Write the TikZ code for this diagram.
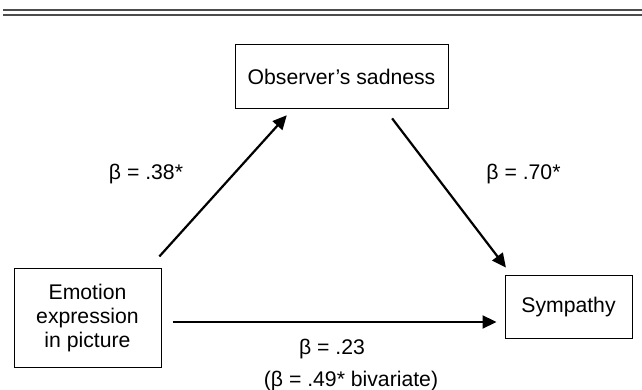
\documentclass[tikz,border=0pt]{standalone}
\usepackage{fontspec}
\setmainfont{Liberation Sans}
\usepackage{tikz}
\usetikzlibrary{arrows.meta}

\begin{document}
\begin{tikzpicture}[x=0.5pt, y=0.5pt, >={Triangle[length=7pt,width=6.5pt]},
  box/.style={draw, line width=0.5pt, align=center, inner sep=0pt},
  path/.style={->, line width=1.1pt},
  font=\fontsize{10.6}{12}\selectfont]
\useasboundingbox (0,0) rectangle (642,390);
\draw [black!70, line width=1pt] (3,379.5)--(642,379.5);
\draw [black!70, line width=1pt] (3,374.5)--(642,374.5);
\node[box, minimum width=106.5pt, minimum height=32pt] (obs) at (341.5, 313)  {Observer's sadness} ;
\node[box, minimum width=73.5pt, minimum height=49.5pt] (emo) at (87.5, 71.5)  {Emotion\\expression\\in picture} ;
\node[box, minimum width=63.5pt, minimum height=31.5pt] (sym) at (568.5, 82.5)  {Sympathy} ;
\node (b1) at (146, 216)  {β = .38*} ;
\node (b2) at (523.5, 216)  {β = .70*} ;
\node (b3) at (332, 41)  {β = .23} ;
\node (b4) at (351, 9)  {(β = .49* bivariate)} ;
  \draw [path, shorten <=8.1pt, shorten >=3.9pt] ([xshift=-6.5pt]emo.north east)--([xshift=-24.75pt]obs.south);
  \draw [path, shorten <=5.6pt, shorten >=5pt] ([xshift=21.9pt]obs.south)--([xshift=-28.25pt]sym.north);
  \draw [path, shorten <=5.5pt, shorten >=4pt] ([yshift=-1.75pt]emo.east)--([yshift=-7.25pt]sym.west);
\end{tikzpicture}
\end{document}
